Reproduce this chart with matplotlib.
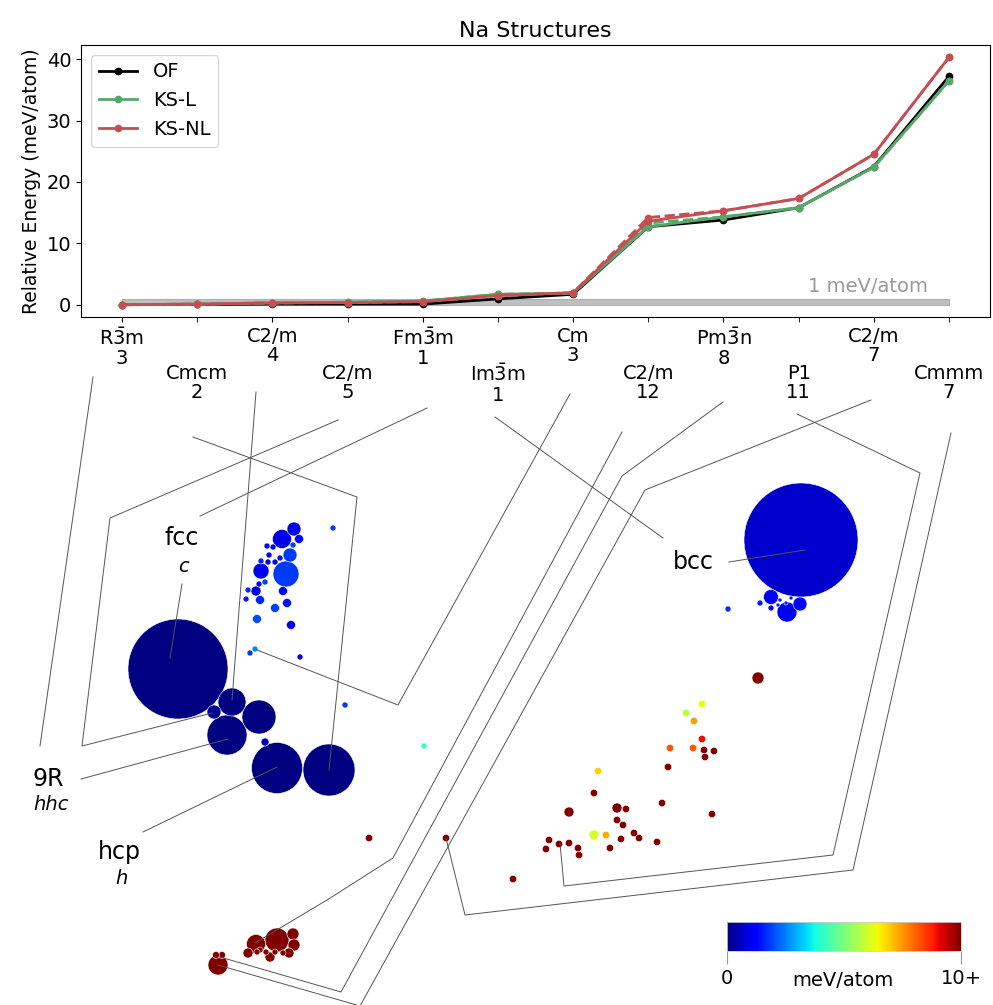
import numpy as np
import matplotlib
matplotlib.use("Agg")
import matplotlib.pyplot as plt
from matplotlib.colors import Normalize
from matplotlib.cm import ScalarMappable

# ---- energy vs structure (top panel) ----
structures = [r"R$\bar{3}$m", "Cmcm", "C2/m", "C2/m", r"Fm$\bar{3}$m", r"Im$\bar{3}$m",
              "Cm", "C2/m", r"Pm$\bar{3}$n", "P1", "C2/m", "Cmmm"]
natoms = [3, 2, 4, 5, 1, 1, 3, 12, 8, 11, 7, 7]
e_of = [0.0, 0.05, 0.1, 0.1, 0.1, 0.95, 1.7, 12.7, 13.8, 15.8, 22.5, 37.2]
e_ksl = [0.0, 0.1, 0.3, 0.4, 0.6, 1.7, 1.9, 12.7, 14.3, 15.8, 22.4, 36.5]
e_ksnl = [0.0, 0.1, 0.3, 0.35, 0.5, 1.5, 1.95, 13.6, 15.3, 17.3, 24.5, 40.3]
e_ksl_alt = [0.0, 0.1, 0.3, 0.4, 0.6, 1.7, 1.9, 13.3, 14.3, 15.8, 22.4, 36.5]
e_ksnl_alt = [0.0, 0.1, 0.3, 0.35, 0.5, 1.5, 1.95, 14.2, 15.3, 17.3, 24.5, 40.3]

# ---- structure map (bottom panel), coordinates in map units ----
# fcc / hcp / 9R bubbles
map_x = [178, 232, 214, 259, 227, 265, 277, 329,
         # fcc-like cloud
         294, 282, 299, 293, 290, 286, 261, 267, 273, 269, 280, 261, 268, 275, 265, 259,
         248, 256, 246, 260, 283, 275, 287, 257, 291, 333, 250, 255, 300, 345, 424,
         # bcc
         801, 787, 771, 800, 760, 771, 728, 780, 786, 778, 791,
         # high energy cloud
         758, 702, 686, 694, 702, 670, 693, 704, 714, 705, 668, 598, 594, 662, 569, 617,
         626, 712, 617, 623, 594, 606, 634, 639, 621, 657, 549, 559, 569, 578, 579, 546,
         610, 513, 446, 369,
         # bottom cluster
         277, 256, 293, 294, 289, 270, 248, 260, 266, 283, 257, 275, 218, 216, 222]
map_y = [669, 702, 712, 717, 735, 742, 768, 770,
         529, 539, 539, 545, 555, 574, 571, 546, 547, 555, 558, 561, 562, 562, 582, 584,
         590, 591, 599, 600, 591, 608, 603, 619, 625, 528, 653, 649, 657, 705, 746,
         540, 612, 597, 604, 603, 608, 609, 600, 603, 605, 598,
         678, 704, 713, 721, 739, 748, 748, 750, 751, 757, 767, 771, 793, 803, 812, 808,
         809, 814, 820, 825, 835, 835, 833, 838, 839, 842, 840, 844, 843, 848, 855, 849,
         848, 879, 838, 838,
         940, 944, 934, 945, 953, 957, 953, 950, 952, 953, 952, 952, 965, 955, 955]
map_r = [50, 14, 7, 17, 20, 4, 25.5, 26,
         7, 9.5, 4.5, 3, 7, 13, 8, 3, 3, 3, 3, 3, 3, 3, 3, 3,
         3, 5, 3, 4.5, 4.5, 4.5, 4.5, 4.5, 4.5, 3, 3, 3, 3, 3, 3,
         57, 10, 7.5, 7, 3, 3, 3, 2, 2, 2, 2,
         6, 3.7, 3.7, 3.7, 3.7, 3.7, 3.7, 3.7, 3.7, 3.7, 3.7, 3.7, 3.7, 3.7, 5, 5,
         3.7, 3.7, 3.7, 3.7, 5, 3.7, 3.7, 3.7, 3.7, 3.7, 3.7, 3.7, 3.7, 3.7, 3.7, 3.7,
         3.7, 3.7, 3.7, 3.7,
         12, 9.5, 6, 6, 5, 5, 5, 3, 3, 3, 3, 3, 10, 3.5, 3.5]
map_e = [0, 0, 0.2, 0, 0, 0.5, 0, 0,
         1.0, 0.9, 1.2, 1.8, 1.8, 1.8, 1.0, 1.3, 1.1, 1.0, 1.4, 1.6, 1.0, 1.3, 1.9, 1.3,
         1.7, 0.9, 1.5, 1.6, 1.3, 1.9, 1.4, 2.0, 1.0, 1.8, 1.8, 2.6, 1.2, 1.8, 4.2,
         0.7, 1.1, 1.2, 1.1, 1.5, 1.3, 1.7, 1.5, 1.6, 1.6, 1.5,
         10, 6.3, 5.8, 7.4, 9.0, 8.2, 8.2, 10, 10, 10, 10, 6.9, 10, 10, 10, 10,
         10, 10, 10, 10, 6.1, 7.3, 10, 10, 10, 10, 10, 10, 10, 10, 10, 10,
         10, 10, 10, 10,
         10, 10, 10, 10, 10, 10, 10, 10, 10, 10, 10, 10, 10, 10, 10]

# labels placed in the map
map_labels = ["fcc", "bcc", "9R", "hcp"]
map_label_xy = [(182, 538), (693, 562), (48, 779), (119, 852)]
map_sublabels = ["c", "hhc", "h"]
map_sublabel_xy = [(183, 566), (51, 804), (121, 878)]

# leader lines from tick labels to map entries
leaders = [
    [(93, 377), (40, 746)],
    [(81, 779), (228, 739)],
    [(193, 437), (357, 497), (329, 770)],
    [(256, 392), (232, 700)],
    [(338, 420), (110, 518), (82, 746), (212, 713)],
    [(427, 408), (200, 516)],
    [(182, 584), (170, 658)],
    [(143, 832), (277, 767)],
    [(495, 417), (663, 538)],
    [(729, 562), (805, 550)],
    [(570, 394), (398, 705), (257, 650)],
    [(622, 432), (393, 858), (327, 900), (255, 943)],
    [(723, 402), (622, 476), (341, 992), (220, 957)],
    [(797, 414), (920, 473), (833, 855), (564, 886), (560, 843)],
    [(871, 400), (645, 490), (360, 1006), (218, 965)],
    [(951, 433), (853, 870), (465, 915), (446, 838)],
]

W, H = 993, 1005
fig = plt.figure(figsize=(W / 100, H / 100), dpi=100)

# bottom map axes spanning whole figure, in map units
ax2 = fig.add_axes([0, 0, 1, 1])
ax2.set_xlim(0, W)
ax2.set_ylim(H, 0)
ax2.axis("off")
ax2.patch.set_visible(False)

cmap = plt.get_cmap("jet")
norm = Normalize(0, 10)
order = np.argsort(map_r)[::-1]
mx = np.array(map_x)[order]
my = np.array(map_y)[order]
mr = np.array(map_r)[order]
me = np.clip(np.array(map_e)[order], 0, 10)
ax2.scatter(mx, my, s=(1.44 * mr) ** 2, c=me, cmap=cmap, norm=norm,
            edgecolors="white", linewidths=0.4, zorder=2)

for pts in leaders:
    px, py = zip(*pts)
    ax2.plot(px, py, color="#555555", lw=0.7, zorder=3)

for lab, (lx, ly) in zip(map_labels, map_label_xy):
    ax2.text(lx, ly, lab, fontsize=17, ha="center", va="center", zorder=4)
for lab, (lx, ly) in zip(map_sublabels, map_sublabel_xy):
    ax2.text(lx, ly, lab, fontsize=14, style="italic", ha="center", va="center", zorder=4)

# top axes
ax = fig.add_axes([81 / W, 1 - 317 / H, 909 / W, 272 / H])
xs = np.arange(len(structures))
ax.fill_between([xs[0], xs[-1]], 0, 1, color="gray", alpha=0.5, lw=0.8)
ax.text(10.72, 1.4, "1 meV/atom", color="#999999", fontsize=14, ha="right", va="bottom")
ax.plot(xs, e_of, "-o", color="black", lw=2, ms=4.5, label="OF")
ax.plot(xs, e_ksl_alt, "--o", color="#55a868", lw=2, ms=4.5)
ax.plot(xs, e_ksnl_alt, "--o", color="#c44e52", lw=2, ms=4.5)
ax.plot(xs, e_ksl, "-o", color="#55a868", lw=2, ms=4.5, label="KS-L")
ax.plot(xs, e_ksnl, "-o", color="#c44e52", lw=2, ms=4.5, label="KS-NL")
ax.set_xlim(-0.545, 11.545)
ax.set_ylim(-2.0, 42.3)
ax.set_yticks([0, 10, 20, 30, 40])
ax.tick_params(axis="y", labelsize=14)
ax.set_ylabel("Relative Energy (meV/atom)", fontsize=13.5)
ax.set_title("Na Structures", fontsize=16)
ax.legend(loc="upper left", fontsize=14)

labels = [f"{s}\n{n}" for s, n in zip(structures, natoms)]
ax.set_xticks(xs[::2])
ax.set_xticklabels(labels[::2], fontsize=14, linespacing=1.05)
ax.set_xticks(xs[1::2], minor=True)
ax.set_xticklabels(labels[1::2], minor=True, fontsize=14, linespacing=1.05)
ax.tick_params(axis="x", which="minor", length=3.5, pad=30)

# colorbar
cax = fig.add_axes([727 / W, 1 - 951 / H, 234 / W, 29 / H])
cb = fig.colorbar(ScalarMappable(norm=norm, cmap=cmap), cax=cax,
                  orientation="horizontal", ticks=[0, 10])
cb.ax.set_xticklabels(["0", "10+"], fontsize=14)
cb.ax.tick_params(length=9, color="#999999", width=0.8, pad=4)
cb.outline.set_edgecolor("#cccccc")
cb.outline.set_linewidth(0.6)
fig.text(843 / W, 1 - 980 / H, "meV/atom", fontsize=14, ha="center", va="center")

fig.savefig("out.png", dpi=100)
